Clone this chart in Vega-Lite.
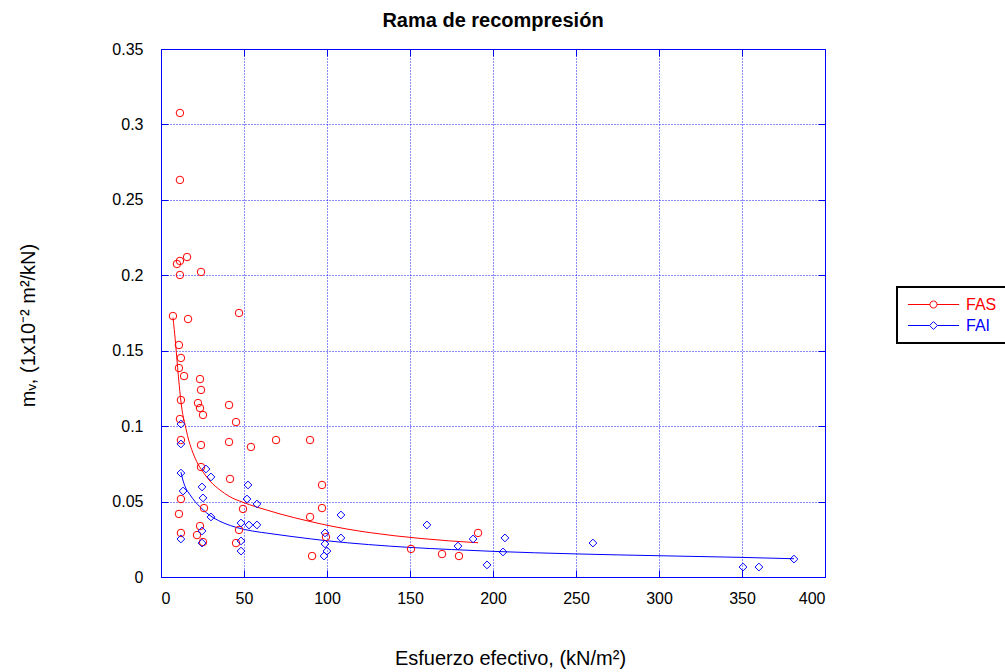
{
  "$schema": "https://vega.github.io/schema/vega-lite/v6.json",
  "width": 664,
  "height": 528,
  "autosize": {"type": "none"},
  "padding": {"left": 161, "top": 49, "right": 180, "bottom": 95},
  "background": "white",
  "config": {
    "font": "Liberation Sans",
    "view": {"stroke": "#0000ff", "strokeWidth": 1},
    "legend": {"strokeWidth": 2},
    "axis": {
      "domainColor": "#0000ff",
      "tickColor": "#0000ff",
      "gridColor": "#0000ff",
      "gridDash": [1, 2],
      "gridOpacity": 0.9,
      "labelColor": "black",
      "labelFont": "Liberation Sans",
      "labelFontSize": 16,
      "titleFont": "Liberation Sans",
      "titleFontSize": 20,
      "titleFontWeight": "normal",
      "titleColor": "black"
    }
  },
  "title": {
    "text": "Rama de recompresión",
    "font": "Liberation Sans",
    "fontSize": 20,
    "fontWeight": "bold",
    "color": "black",
    "baseline": "alphabetic",
    "frame": "group",
    "offset": -6
  },
  "datasets": {
    "puntos": [
      {"esfuerzo": 11.4, "mv": 0.3076, "serie": "FAS"},
      {"esfuerzo": 11.4, "mv": 0.2632, "serie": "FAS"},
      {"esfuerzo": 9.6, "mv": 0.2075, "serie": "FAS"},
      {"esfuerzo": 11.4, "mv": 0.2095, "serie": "FAS"},
      {"esfuerzo": 15.7, "mv": 0.2121, "serie": "FAS"},
      {"esfuerzo": 11.4, "mv": 0.2002, "serie": "FAS"},
      {"esfuerzo": 24.1, "mv": 0.2022, "serie": "FAS"},
      {"esfuerzo": 7.2, "mv": 0.173, "serie": "FAS"},
      {"esfuerzo": 16.3, "mv": 0.171, "serie": "FAS"},
      {"esfuerzo": 47.0, "mv": 0.175, "serie": "FAS"},
      {"esfuerzo": 10.8, "mv": 0.1538, "serie": "FAS"},
      {"esfuerzo": 12.0, "mv": 0.1452, "serie": "FAS"},
      {"esfuerzo": 10.8, "mv": 0.1385, "serie": "FAS"},
      {"esfuerzo": 13.9, "mv": 0.1332, "serie": "FAS"},
      {"esfuerzo": 23.5, "mv": 0.1312, "serie": "FAS"},
      {"esfuerzo": 24.1, "mv": 0.124, "serie": "FAS"},
      {"esfuerzo": 12.0, "mv": 0.1173, "serie": "FAS"},
      {"esfuerzo": 22.3, "mv": 0.1153, "serie": "FAS"},
      {"esfuerzo": 23.5, "mv": 0.112, "serie": "FAS"},
      {"esfuerzo": 25.3, "mv": 0.1074, "serie": "FAS"},
      {"esfuerzo": 41.0, "mv": 0.114, "serie": "FAS"},
      {"esfuerzo": 45.2, "mv": 0.1027, "serie": "FAS"},
      {"esfuerzo": 11.4, "mv": 0.1047, "serie": "FAS"},
      {"esfuerzo": 12.0, "mv": 0.0908, "serie": "FAS"},
      {"esfuerzo": 24.1, "mv": 0.0875, "serie": "FAS"},
      {"esfuerzo": 41.0, "mv": 0.0895, "serie": "FAS"},
      {"esfuerzo": 54.2, "mv": 0.0862, "serie": "FAS"},
      {"esfuerzo": 69.3, "mv": 0.0908, "serie": "FAS"},
      {"esfuerzo": 89.8, "mv": 0.0908, "serie": "FAS"},
      {"esfuerzo": 24.1, "mv": 0.0729, "serie": "FAS"},
      {"esfuerzo": 41.6, "mv": 0.065, "serie": "FAS"},
      {"esfuerzo": 12.0, "mv": 0.0517, "serie": "FAS"},
      {"esfuerzo": 25.9, "mv": 0.0457, "serie": "FAS"},
      {"esfuerzo": 49.4, "mv": 0.0451, "serie": "FAS"},
      {"esfuerzo": 10.8, "mv": 0.0418, "serie": "FAS"},
      {"esfuerzo": 47.0, "mv": 0.0312, "serie": "FAS"},
      {"esfuerzo": 23.5, "mv": 0.0338, "serie": "FAS"},
      {"esfuerzo": 21.7, "mv": 0.0278, "serie": "FAS"},
      {"esfuerzo": 12.0, "mv": 0.0292, "serie": "FAS"},
      {"esfuerzo": 25.3, "mv": 0.0232, "serie": "FAS"},
      {"esfuerzo": 45.2, "mv": 0.0225, "serie": "FAS"},
      {"esfuerzo": 97.0, "mv": 0.061, "serie": "FAS"},
      {"esfuerzo": 97.0, "mv": 0.0457, "serie": "FAS"},
      {"esfuerzo": 89.8, "mv": 0.0398, "serie": "FAS"},
      {"esfuerzo": 99.4, "mv": 0.0265, "serie": "FAS"},
      {"esfuerzo": 91.0, "mv": 0.0139, "serie": "FAS"},
      {"esfuerzo": 150.6, "mv": 0.0186, "serie": "FAS"},
      {"esfuerzo": 169.3, "mv": 0.0152, "serie": "FAS"},
      {"esfuerzo": 179.5, "mv": 0.0139, "serie": "FAS"},
      {"esfuerzo": 191.0, "mv": 0.0292, "serie": "FAS"},
      {"esfuerzo": 12.0, "mv": 0.1014, "serie": "FAI"},
      {"esfuerzo": 12.0, "mv": 0.0882, "serie": "FAI"},
      {"esfuerzo": 12.0, "mv": 0.0689, "serie": "FAI"},
      {"esfuerzo": 27.1, "mv": 0.0716, "serie": "FAI"},
      {"esfuerzo": 30.1, "mv": 0.0663, "serie": "FAI"},
      {"esfuerzo": 24.7, "mv": 0.0597, "serie": "FAI"},
      {"esfuerzo": 13.3, "mv": 0.057, "serie": "FAI"},
      {"esfuerzo": 25.3, "mv": 0.0524, "serie": "FAI"},
      {"esfuerzo": 52.4, "mv": 0.061, "serie": "FAI"},
      {"esfuerzo": 51.8, "mv": 0.0517, "serie": "FAI"},
      {"esfuerzo": 57.8, "mv": 0.0484, "serie": "FAI"},
      {"esfuerzo": 30.1, "mv": 0.0398, "serie": "FAI"},
      {"esfuerzo": 48.2, "mv": 0.0358, "serie": "FAI"},
      {"esfuerzo": 53.0, "mv": 0.0345, "serie": "FAI"},
      {"esfuerzo": 57.8, "mv": 0.0345, "serie": "FAI"},
      {"esfuerzo": 24.7, "mv": 0.0305, "serie": "FAI"},
      {"esfuerzo": 12.0, "mv": 0.0252, "serie": "FAI"},
      {"esfuerzo": 24.7, "mv": 0.0225, "serie": "FAI"},
      {"esfuerzo": 48.2, "mv": 0.0239, "serie": "FAI"},
      {"esfuerzo": 48.2, "mv": 0.0172, "serie": "FAI"},
      {"esfuerzo": 108.4, "mv": 0.0411, "serie": "FAI"},
      {"esfuerzo": 98.8, "mv": 0.0292, "serie": "FAI"},
      {"esfuerzo": 98.8, "mv": 0.0219, "serie": "FAI"},
      {"esfuerzo": 108.4, "mv": 0.0259, "serie": "FAI"},
      {"esfuerzo": 100.0, "mv": 0.0172, "serie": "FAI"},
      {"esfuerzo": 98.2, "mv": 0.0139, "serie": "FAI"},
      {"esfuerzo": 160.2, "mv": 0.0345, "serie": "FAI"},
      {"esfuerzo": 178.9, "mv": 0.0205, "serie": "FAI"},
      {"esfuerzo": 188.0, "mv": 0.0252, "serie": "FAI"},
      {"esfuerzo": 207.2, "mv": 0.0259, "serie": "FAI"},
      {"esfuerzo": 206.0, "mv": 0.0166, "serie": "FAI"},
      {"esfuerzo": 196.4, "mv": 0.008, "serie": "FAI"},
      {"esfuerzo": 260.2, "mv": 0.0225, "serie": "FAI"},
      {"esfuerzo": 350.6, "mv": 0.0066, "serie": "FAI"},
      {"esfuerzo": 360.2, "mv": 0.0066, "serie": "FAI"},
      {"esfuerzo": 381.3, "mv": 0.0119, "serie": "FAI"}
    ],
    "ajustes": [
      {"esfuerzo": 7.2, "mv": 0.172, "serie": "FAS"},
      {"esfuerzo": 8.0, "mv": 0.164, "serie": "FAS"},
      {"esfuerzo": 9.0, "mv": 0.152, "serie": "FAS"},
      {"esfuerzo": 10.0, "mv": 0.139, "serie": "FAS"},
      {"esfuerzo": 11.0, "mv": 0.127, "serie": "FAS"},
      {"esfuerzo": 12.5, "mv": 0.112, "serie": "FAS"},
      {"esfuerzo": 14.5, "mv": 0.101, "serie": "FAS"},
      {"esfuerzo": 16.5, "mv": 0.0915, "serie": "FAS"},
      {"esfuerzo": 18.5, "mv": 0.0845, "serie": "FAS"},
      {"esfuerzo": 21.5, "mv": 0.0765, "serie": "FAS"},
      {"esfuerzo": 25.4, "mv": 0.0695, "serie": "FAS"},
      {"esfuerzo": 30.0, "mv": 0.063, "serie": "FAS"},
      {"esfuerzo": 35.5, "mv": 0.0577, "serie": "FAS"},
      {"esfuerzo": 41.0, "mv": 0.0535, "serie": "FAS"},
      {"esfuerzo": 49.4, "mv": 0.0495, "serie": "FAS"},
      {"esfuerzo": 57.0, "mv": 0.0466, "serie": "FAS"},
      {"esfuerzo": 63.7, "mv": 0.0444, "serie": "FAS"},
      {"esfuerzo": 71.7, "mv": 0.0418, "serie": "FAS"},
      {"esfuerzo": 80.0, "mv": 0.0394, "serie": "FAS"},
      {"esfuerzo": 89.8, "mv": 0.0368, "serie": "FAS"},
      {"esfuerzo": 98.8, "mv": 0.0346, "serie": "FAS"},
      {"esfuerzo": 112.0, "mv": 0.0318, "serie": "FAS"},
      {"esfuerzo": 126.0, "mv": 0.0294, "serie": "FAS"},
      {"esfuerzo": 141.0, "mv": 0.0273, "serie": "FAS"},
      {"esfuerzo": 156.0, "mv": 0.0256, "serie": "FAS"},
      {"esfuerzo": 173.0, "mv": 0.024, "serie": "FAS"},
      {"esfuerzo": 191.0, "mv": 0.0227, "serie": "FAS"},
      {"esfuerzo": 12.0, "mv": 0.0695, "serie": "FAI"},
      {"esfuerzo": 13.0, "mv": 0.065, "serie": "FAI"},
      {"esfuerzo": 14.5, "mv": 0.06, "serie": "FAI"},
      {"esfuerzo": 17.5, "mv": 0.0545, "serie": "FAI"},
      {"esfuerzo": 20.5, "mv": 0.05, "serie": "FAI"},
      {"esfuerzo": 23.5, "mv": 0.0465, "serie": "FAI"},
      {"esfuerzo": 27.5, "mv": 0.0425, "serie": "FAI"},
      {"esfuerzo": 31.5, "mv": 0.0393, "serie": "FAI"},
      {"esfuerzo": 38.0, "mv": 0.0357, "serie": "FAI"},
      {"esfuerzo": 45.6, "mv": 0.0328, "serie": "FAI"},
      {"esfuerzo": 55.0, "mv": 0.0305, "serie": "FAI"},
      {"esfuerzo": 65.7, "mv": 0.0288, "serie": "FAI"},
      {"esfuerzo": 77.7, "mv": 0.027, "serie": "FAI"},
      {"esfuerzo": 90.0, "mv": 0.0253, "serie": "FAI"},
      {"esfuerzo": 100.0, "mv": 0.024, "serie": "FAI"},
      {"esfuerzo": 125.0, "mv": 0.0215, "serie": "FAI"},
      {"esfuerzo": 150.0, "mv": 0.0196, "serie": "FAI"},
      {"esfuerzo": 175.0, "mv": 0.0182, "serie": "FAI"},
      {"esfuerzo": 200.0, "mv": 0.017, "serie": "FAI"},
      {"esfuerzo": 250.0, "mv": 0.0153, "serie": "FAI"},
      {"esfuerzo": 300.0, "mv": 0.0141, "serie": "FAI"},
      {"esfuerzo": 350.0, "mv": 0.013, "serie": "FAI"},
      {"esfuerzo": 381.3, "mv": 0.0121, "serie": "FAI"}
    ]
  },
  "resolve": {"axis": {"x": "independent", "y": "independent"}},
  "layer": [
    {
      "data": {"name": "ajustes"},
      "mark": {"type": "line", "strokeWidth": 1, "interpolate": "monotone"},
      "encoding": {
        "x": {
          "field": "esfuerzo", "type": "quantitative",
          "scale": {"domain": [0, 400], "nice": false},
          "axis": {"orient": "top", "labels": false, "grid": false, "domain": false, "title": null,
                   "values": [0, 50, 100, 150, 200, 250, 300, 350, 400], "tickSize": -7}
        },
        "y": {
          "field": "mv", "type": "quantitative",
          "scale": {"domain": [0, 0.35], "nice": false},
          "axis": {"orient": "right", "labels": false, "grid": false, "domain": false, "title": null,
                   "values": [0, 0.05, 0.1, 0.15, 0.2, 0.25, 0.3, 0.35], "tickSize": -7}
        },
        "color": {
          "field": "serie", "type": "nominal",
          "scale": {"domain": ["FAS", "FAI"], "range": ["#ff0000", "#0000ff"]},
          "legend": {
            "orient": "none", "legendX": 736, "legendY": 238, "title": null, "direction": "vertical",
            "symbolType": {"expr": "datum.value === 'FAS' ? 'M-3.2,0L-0.44,0M0.44,0L3.2,0M-0.44,0A0.44,0.44,0,1,1,0.44,0A0.44,0.44,0,1,1,-0.44,0Z' : 'M-3.2,0L-0.49,0M0.49,0L3.2,0M-0.49,0L0,-0.49L0.49,0L0,0.49Z'"},
            "symbolSize": 256, "symbolOffset": 19, "symbolStrokeWidth": 1, "symbolFillColor": "transparent",
            "labelColor": {"expr": "datum.value === 'FAS' ? '#ff0000' : '#0000ff'"},
            "labelFont": "Liberation Sans", "labelFontSize": 16, "labelOffset": 24,
            "padding": 9, "rowPadding": 4, "strokeColor": "black", "fillColor": "white"
          }
        },
        "order": {"field": "esfuerzo", "type": "quantitative"}
      }
    },
    {
      "data": {"name": "puntos"},
      "transform": [{"filter": "datum.serie === 'FAS'"}],
      "mark": {"type": "point", "shape": "circle", "filled": false, "strokeWidth": 1, "size": 56, "opacity": 1},
      "encoding": {
        "x": {
          "field": "esfuerzo", "type": "quantitative",
          "scale": {"domain": [0, 400], "nice": false},
          "axis": {
            "orient": "bottom", "grid": true,
            "values": [0, 50, 100, 150, 200, 250, 300, 350, 400],
            "tickSize": -7, "labelPadding": 20,
            "title": "Esfuerzo efectivo, (kN/m²)",
            "titleX": 349, "titleY": 87, "titleBaseline": "alphabetic", "titleAnchor": "middle"
          }
        },
        "y": {
          "field": "mv", "type": "quantitative",
          "scale": {"domain": [0, 0.35], "nice": false},
          "axis": {
            "orient": "left", "grid": true,
            "values": [0, 0.05, 0.1, 0.15, 0.2, 0.25, 0.3, 0.35],
            "format": ".2~f",
            "tickSize": -7, "labelPadding": 25,
            "title": "mᵥ, (1x10⁻² m²/kN)",
            "titleX": -127, "titleY": 276, "titleBaseline": "alphabetic", "titleAnchor": "middle"
          }
        },
        "color": {
          "field": "serie", "type": "nominal",
          "scale": {"domain": ["FAS", "FAI"], "range": ["#ff0000", "#0000ff"]},
          "legend": {
            "orient": "none", "legendX": 736, "legendY": 238, "title": null, "direction": "vertical",
            "symbolType": {"expr": "datum.value === 'FAS' ? 'M-3.2,0L-0.44,0M0.44,0L3.2,0M-0.44,0A0.44,0.44,0,1,1,0.44,0A0.44,0.44,0,1,1,-0.44,0Z' : 'M-3.2,0L-0.49,0M0.49,0L3.2,0M-0.49,0L0,-0.49L0.49,0L0,0.49Z'"},
            "symbolSize": 256, "symbolOffset": 19, "symbolStrokeWidth": 1, "symbolFillColor": "transparent",
            "labelColor": {"expr": "datum.value === 'FAS' ? '#ff0000' : '#0000ff'"},
            "labelFont": "Liberation Sans", "labelFontSize": 16, "labelOffset": 24,
            "padding": 9, "rowPadding": 4, "strokeColor": "black", "fillColor": "white"
          }
        }
      }
    },
    {
      "data": {"name": "puntos"},
      "transform": [{"filter": "datum.serie === 'FAI'"}],
      "mark": {"type": "point", "shape": "diamond", "filled": false, "strokeWidth": 1, "size": 60, "opacity": 1},
      "encoding": {
        "x": {
          "field": "esfuerzo", "type": "quantitative",
          "scale": {"domain": [0, 400], "nice": false},
          "axis": null
        },
        "y": {
          "field": "mv", "type": "quantitative",
          "scale": {"domain": [0, 0.35], "nice": false},
          "axis": null
        },
        "color": {
          "field": "serie", "type": "nominal",
          "scale": {"domain": ["FAS", "FAI"], "range": ["#ff0000", "#0000ff"]},
          "legend": {
            "orient": "none", "legendX": 736, "legendY": 238, "title": null, "direction": "vertical",
            "symbolType": {"expr": "datum.value === 'FAS' ? 'M-3.2,0L-0.44,0M0.44,0L3.2,0M-0.44,0A0.44,0.44,0,1,1,0.44,0A0.44,0.44,0,1,1,-0.44,0Z' : 'M-3.2,0L-0.49,0M0.49,0L3.2,0M-0.49,0L0,-0.49L0.49,0L0,0.49Z'"},
            "symbolSize": 256, "symbolOffset": 19, "symbolStrokeWidth": 1, "symbolFillColor": "transparent",
            "labelColor": {"expr": "datum.value === 'FAS' ? '#ff0000' : '#0000ff'"},
            "labelFont": "Liberation Sans", "labelFontSize": 16, "labelOffset": 24,
            "padding": 9, "rowPadding": 4, "strokeColor": "black", "fillColor": "white"
          }
        }
      }
    }
  ]
}
